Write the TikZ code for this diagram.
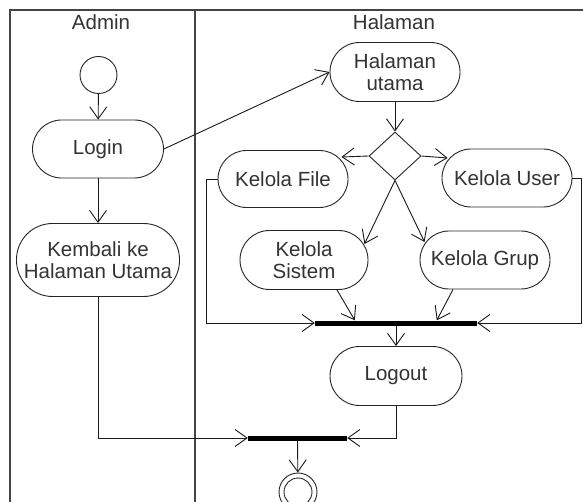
\documentclass[tikz,border=0pt]{standalone}
\usepackage{fontspec}
\setmainfont{Liberation Sans}
\usetikzlibrary{arrows.meta,shapes.geometric,calc}
\definecolor{txt}{HTML}{333333}
\definecolor{frame}{HTML}{444444}
\begin{document}
\begin{tikzpicture}[x=1pt,y=-1pt,
  act/.style={draw=black!85, line width=0.9pt, rectangle, inner sep=0pt, align=center,
    text=txt, font=\fontsize{20.5}{22.5}\selectfont},
  arr/.style={draw=black!90, line width=0.9pt, -{Straight Barb[length=12pt,width=17pt]}},
  barnode/.style={fill=black, inner sep=0pt, minimum height=5pt},
  lanelabel/.style={text=txt, font=\fontsize{20.5}{22.5}\selectfont},
  laneline/.style={draw=frame, line width=1.2pt}]
\useasboundingbox (0,0) rectangle (583,502);
\fill[white] (0,0) rectangle (583,502);
% swimlanes
\draw[laneline] (10,502) -- (10,10) -- (584,10);
\draw[laneline] (195,10) -- (195,502);
\node[lanelabel] (ladmin) at (101,22) {Admin};
\node[lanelabel] (lhal) at (394,22) {Halaman};
% nodes
\node[draw=black!85, line width=0.9pt, circle, minimum size=37pt, inner sep=0pt] (start) at (98.5,75) {};
\node[act, minimum width=131pt, minimum height=58pt, rounded corners=29pt] (login) at (98,149) {Login};
\node[act, minimum width=163pt, minimum height=73pt, rounded corners=36pt] (kembali) at (98,260) {Kembali ke\\Halaman Utama};
\node[act, minimum width=130pt, minimum height=59pt, rounded corners=29.5pt] (hu) at (395,72) {Halaman\\utama};
\node[draw=black!85, line width=0.9pt, diamond, minimum width=52pt, minimum height=48pt, inner sep=0pt] (dia) at (395,156) {};
\node[act, minimum width=130pt, minimum height=57pt, rounded corners=28.5pt] (kf) at (283,179) {Kelola File};
\node[act, minimum width=130pt, minimum height=58pt, rounded corners=29pt] (ku) at (507,178) {Kelola User};
\node[act, minimum width=128pt, minimum height=59pt, rounded corners=29.5pt] (ks) at (304,260) {Kelola\\Sistem};
\node[act, minimum width=130pt, minimum height=58pt, rounded corners=29pt] (kg) at (485,260) {Kelola Grup};
\node[barnode, minimum width=162pt] (bar1) at (396,323) {};
\node[act, minimum width=132pt, minimum height=59pt, rounded corners=29.5pt] (logout) at (396,376) {Logout};
\node[barnode, minimum width=99pt] (bar2) at (297.5,438) {};
\node[draw=black!85, line width=0.9pt, circle, minimum size=38pt, inner sep=0pt] (end) at (298,492) {};
\draw[black!85, line width=0.9pt] (end.center) circle (14pt);
% connectors
\draw[arr] (start) -- (login);
\draw[arr] (login) -- (kembali);
\draw[arr] (login.east) -- (hu.west);
\draw[arr] (hu) -- (dia);
\draw[arr] (dia.west) -- ($(kf.east)+(-7,-22)$);
\draw[arr] (dia.east) -- ($(ku.west)+(6,-20)$);
\draw[arr] (dia.south) -- ($(ks.east)+(-4,-16)$);
\draw[arr] (dia.south) -- ($(kg.west)+(5,-18)$);
\draw[arr] ($(ks.south)+(33,0)$) -- ($(bar1.north west)+(40,0)$);
\draw[arr] ($(kg.south)+(-32,0)$) -- ($(bar1.north west)+(122,0)$);
\draw[arr] (kf.west) -- ++(-11,0) |- (bar1.west);
\draw[arr] (ku.east) -- ++(9,0) |- (bar1.east);
\draw[arr] (bar1) -- (logout);
\draw[arr] (logout.south) |- (bar2.east);
\draw[arr] (kembali.south) |- (bar2.west);
\draw[arr] (bar2) -- (end);
\end{tikzpicture}
\end{document}
